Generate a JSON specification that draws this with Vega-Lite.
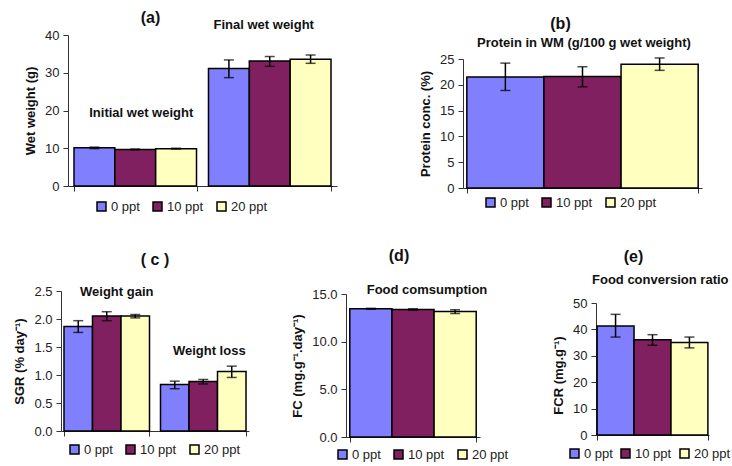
{
  "$schema": "https://vega.github.io/schema/vega-lite/v6.json",
  "padding": {"left": 0, "top": 10, "right": 0, "bottom": 0},
  "background": "white",
  "config": {
    "font": "Liberation Sans",
    "view": {"stroke": null},
    "axis": {"grid": false, "domainColor": "#333", "tickColor": "#333", "tickSize": 5, "labelFontSize": 13, "labelColor": "#222", "titleFontSize": 13, "titleFontWeight": "bold", "titleColor": "#111", "labelPadding": 4, "titlePadding": 7, "labelOverlap": false},
    "axisX": {"title": null, "labels": false, "tickBand": "extent"},
    "legend": {"symbolType": "square", "symbolSize": 81, "symbolStrokeColor": "black", "symbolStrokeWidth": 1.5, "labelFontSize": 13, "labelColor": "#222", "columnPadding": 10, "labelOffset": 3, "title": null, "direction": "horizontal", "orient": "none"},
    "title": {"fontSize": 16, "fontWeight": "bold", "anchor": "middle", "frame": "group", "color": "#111", "offset": 6},
    "text": {"fontSize": 13, "fontWeight": "bold", "color": "#111", "baseline": "middle"},
    "bar": {"stroke": "black", "strokeWidth": 1.5},
    "rule": {"color": "black", "strokeWidth": 1.5},
    "tick": {"color": "black", "thickness": 1.5, "size": 10}
  },
  "datasets": {
    "a": [
      {"group": "Initial", "treatment": "0 ppt", "value": 10.1, "lo": 9.9, "hi": 10.3},
      {"group": "Initial", "treatment": "10 ppt", "value": 9.7, "lo": 9.6, "hi": 9.8},
      {"group": "Initial", "treatment": "20 ppt", "value": 9.9, "lo": 9.8, "hi": 10.0},
      {"group": "Final", "treatment": "0 ppt", "value": 31.1, "lo": 28.7, "hi": 33.4},
      {"group": "Final", "treatment": "10 ppt", "value": 33.1, "lo": 31.7, "hi": 34.3},
      {"group": "Final", "treatment": "20 ppt", "value": 33.6, "lo": 32.5, "hi": 34.7}
    ],
    "b": [
      {"group": "All", "treatment": "0 ppt", "value": 21.5, "lo": 18.9, "hi": 24.2},
      {"group": "All", "treatment": "10 ppt", "value": 21.6, "lo": 19.6, "hi": 23.5},
      {"group": "All", "treatment": "20 ppt", "value": 24.0, "lo": 22.8, "hi": 25.2}
    ],
    "c": [
      {"group": "gain", "treatment": "0 ppt", "value": 1.865, "lo": 1.76, "hi": 1.97},
      {"group": "gain", "treatment": "10 ppt", "value": 2.055, "lo": 1.97, "hi": 2.13},
      {"group": "gain", "treatment": "20 ppt", "value": 2.055, "lo": 2.02, "hi": 2.08},
      {"group": "loss", "treatment": "0 ppt", "value": 0.83, "lo": 0.755, "hi": 0.89},
      {"group": "loss", "treatment": "10 ppt", "value": 0.885, "lo": 0.84, "hi": 0.92},
      {"group": "loss", "treatment": "20 ppt", "value": 1.063, "lo": 0.956, "hi": 1.158}
    ],
    "d": [
      {"group": "All", "treatment": "0 ppt", "value": 13.45, "lo": 13.4, "hi": 13.5},
      {"group": "All", "treatment": "10 ppt", "value": 13.38, "lo": 13.31, "hi": 13.45},
      {"group": "All", "treatment": "20 ppt", "value": 13.17, "lo": 12.95, "hi": 13.35}
    ],
    "e": [
      {"group": "All", "treatment": "0 ppt", "value": 41.3, "lo": 37.1, "hi": 45.7},
      {"group": "All", "treatment": "10 ppt", "value": 36.1, "lo": 34.0, "hi": 38.0},
      {"group": "All", "treatment": "20 ppt", "value": 35.0, "lo": 33.0, "hi": 37.1}
    ]
  },
  "spacing": 34,
  "resolve": {"scale": {"color": "independent", "xOffset": "independent"}, "legend": {"color": "independent"}},
  "vconcat": [
    {
      "spacing": 0,
      "bounds": "flush",
      "resolve": {"scale": {"color": "independent", "xOffset": "independent"}, "legend": {"color": "independent"}},
      "hconcat": [
        {"data": {"values": []}, "mark": "point", "width": 68, "height": 1},
        {
          "width": 269, "height": 151,
          "title": {"text": "(a)", "dx": -52, "dy": 13.5},
          "data": {"name": "a"},
          "encoding": {"x": {"field": "group", "type": "nominal", "sort": ["Initial", "Final"], "scale": {"paddingInner": 0.089, "paddingOuter": 0.0446}}},
          "layer": [
            {"mark": "bar", "encoding": {
              "xOffset": {"field": "treatment", "type": "nominal", "sort": ["0 ppt", "10 ppt", "20 ppt"], "scale": {"paddingInner": 0, "paddingOuter": 0}},
              "y": {"field": "value", "type": "quantitative", "scale": {"domain": [0, 40], "nice": false}, "axis": {"title": "Wet weight (g)", "values": [0, 10, 20, 30, 40]}},
              "color": {"field": "treatment", "type": "nominal", "scale": {"domain": ["0 ppt", "10 ppt", "20 ppt"], "range": ["#8080FF", "#802060", "#FFFFC0"]}, "legend": {"legendX": 27, "legendY": 165}}}},
            {"mark": "rule", "encoding": {
              "xOffset": {"field": "treatment", "type": "nominal", "sort": ["0 ppt", "10 ppt", "20 ppt"]},
              "y": {"field": "lo", "type": "quantitative", "axis": {"title": "Wet weight (g)", "values": [0, 10, 20, 30, 40]}}, "y2": {"field": "hi"}}},
            {"mark": "tick", "encoding": {
              "xOffset": {"field": "treatment", "type": "nominal", "sort": ["0 ppt", "10 ppt", "20 ppt"]},
              "y": {"field": "lo", "type": "quantitative", "axis": {"title": "Wet weight (g)", "values": [0, 10, 20, 30, 40]}}}},
            {"mark": "tick", "encoding": {
              "xOffset": {"field": "treatment", "type": "nominal", "sort": ["0 ppt", "10 ppt", "20 ppt"]},
              "y": {"field": "hi", "type": "quantitative", "axis": {"title": "Wet weight (g)", "values": [0, 10, 20, 30, 40]}}}},
            {"data": {"values": [{"group": "Initial", "pos": 19.3, "label": "Initial wet  weight"}]},
              "mark": {"type": "text", "dx": 6},
              "encoding": {"y": {"field": "pos", "type": "quantitative", "axis": {"title": "Wet weight (g)", "values": [0, 10, 20, 30, 40]}}, "text": {"field": "label"}}},
            {"data": {"values": [{"group": "Final", "pos": 42.65, "label": "Final wet weight"}]},
              "mark": {"type": "text", "dx": -6},
              "encoding": {"y": {"field": "pos", "type": "quantitative", "axis": {"title": "Wet weight (g)", "values": [0, 10, 20, 30, 40]}}, "text": {"field": "label"}}}
          ]
        },
        {"data": {"values": []}, "mark": "point", "width": 126, "height": 1},
        {
          "width": 239, "height": 153,
          "title": {"text": "(b)", "dx": -22, "dy": 3},
          "data": {"name": "b"},
          "encoding": {"x": {"field": "group", "type": "nominal", "scale": {"paddingInner": 0, "paddingOuter": 0.0165}}},
          "layer": [
            {"mark": "bar", "encoding": {
              "xOffset": {"field": "treatment", "type": "nominal", "sort": ["0 ppt", "10 ppt", "20 ppt"], "scale": {"paddingInner": 0, "paddingOuter": 0}},
              "y": {"field": "value", "type": "quantitative", "scale": {"domain": [0, 25], "nice": false, "range": [153, 24]}, "axis": {"title": "Protein  conc. (%)", "values": [0, 5, 10, 15, 20, 25]}},
              "color": {"field": "treatment", "type": "nominal", "scale": {"domain": ["0 ppt", "10 ppt", "20 ppt"], "range": ["#8080FF", "#802060", "#FFFFC0"]}, "legend": {"legendX": 21, "legendY": 161}}}},
            {"mark": "rule", "encoding": {
              "xOffset": {"field": "treatment", "type": "nominal", "sort": ["0 ppt", "10 ppt", "20 ppt"]},
              "y": {"field": "lo", "type": "quantitative", "axis": {"title": "Protein  conc. (%)", "values": [0, 5, 10, 15, 20, 25]}}, "y2": {"field": "hi"}}},
            {"mark": "tick", "encoding": {
              "xOffset": {"field": "treatment", "type": "nominal", "sort": ["0 ppt", "10 ppt", "20 ppt"]},
              "y": {"field": "lo", "type": "quantitative", "axis": {"title": "Protein  conc. (%)", "values": [0, 5, 10, 15, 20, 25]}}}},
            {"mark": "tick", "encoding": {
              "xOffset": {"field": "treatment", "type": "nominal", "sort": ["0 ppt", "10 ppt", "20 ppt"]},
              "y": {"field": "hi", "type": "quantitative", "axis": {"title": "Protein  conc. (%)", "values": [0, 5, 10, 15, 20, 25]}}}},
            {"data": {"values": [{"group": "All", "pos": 28.1, "label": "Protein in WM (g/100 g wet weight)"}]},
              "mark": {"type": "text", "dx": 1.5},
              "encoding": {"y": {"field": "pos", "type": "quantitative", "axis": {"title": "Protein  conc. (%)", "values": [0, 5, 10, 15, 20, 25]}}, "text": {"field": "label"}}}
          ]
        }
      ]
    },
    {
      "spacing": 0,
      "bounds": "flush",
      "resolve": {"scale": {"color": "independent", "xOffset": "independent"}, "legend": {"color": "independent"}},
      "hconcat": [
        {"data": {"values": []}, "mark": "point", "width": 61, "height": 1},
        {
          "width": 188, "height": 140,
          "title": {"text": "( c )", "dx": 0, "dy": -11},
          "data": {"name": "c"},
          "encoding": {"x": {"field": "group", "type": "nominal", "sort": ["gain", "loss"], "scale": {"paddingInner": 0.114, "paddingOuter": 0.031}}},
          "layer": [
            {"mark": "bar", "encoding": {
              "xOffset": {"field": "treatment", "type": "nominal", "sort": ["0 ppt", "10 ppt", "20 ppt"], "scale": {"paddingInner": 0, "paddingOuter": 0}},
              "y": {"field": "value", "type": "quantitative", "scale": {"domain": [0, 2.5], "nice": false}, "axis": {"title": "SGR (% day⁻¹)", "values": [0, 0.5, 1, 1.5, 2, 2.5], "format": ".1f"}},
              "color": {"field": "treatment", "type": "nominal", "scale": {"domain": ["0 ppt", "10 ppt", "20 ppt"], "range": ["#8080FF", "#802060", "#FFFFC0"]}, "legend": {"legendX": 7, "legendY": 152}}}},
            {"mark": "rule", "encoding": {
              "xOffset": {"field": "treatment", "type": "nominal", "sort": ["0 ppt", "10 ppt", "20 ppt"]},
              "y": {"field": "lo", "type": "quantitative", "axis": {"title": "SGR (% day⁻¹)", "values": [0, 0.5, 1, 1.5, 2, 2.5], "format": ".1f"}}, "y2": {"field": "hi"}}},
            {"mark": "tick", "encoding": {
              "xOffset": {"field": "treatment", "type": "nominal", "sort": ["0 ppt", "10 ppt", "20 ppt"]},
              "y": {"field": "lo", "type": "quantitative", "axis": {"title": "SGR (% day⁻¹)", "values": [0, 0.5, 1, 1.5, 2, 2.5], "format": ".1f"}}}},
            {"mark": "tick", "encoding": {
              "xOffset": {"field": "treatment", "type": "nominal", "sort": ["0 ppt", "10 ppt", "20 ppt"]},
              "y": {"field": "hi", "type": "quantitative", "axis": {"title": "SGR (% day⁻¹)", "values": [0, 0.5, 1, 1.5, 2, 2.5], "format": ".1f"}}}},
            {"data": {"values": [{"group": "gain", "pos": 2.48, "label": "Weight gain"}]},
              "mark": {"type": "text", "dx": 10},
              "encoding": {"y": {"field": "pos", "type": "quantitative", "axis": {"title": "SGR (% day⁻¹)", "values": [0, 0.5, 1, 1.5, 2, 2.5], "format": ".1f"}}, "text": {"field": "label"}}},
            {"data": {"values": [{"group": "loss", "pos": 1.43, "label": "Weight loss"}]},
              "mark": {"type": "text", "dx": 6},
              "encoding": {"y": {"field": "pos", "type": "quantitative", "axis": {"title": "SGR (% day⁻¹)", "values": [0, 0.5, 1, 1.5, 2, 2.5], "format": ".1f"}}, "text": {"field": "label"}}}
          ]
        },
        {"data": {"values": []}, "mark": "point", "width": 97, "height": 1},
        {
          "width": 134, "height": 146,
          "title": {"text": "(d)", "dx": -14, "dy": -14},
          "data": {"name": "d"},
          "encoding": {"x": {"field": "group", "type": "nominal", "scale": {"paddingInner": 0, "paddingOuter": 0.03}}},
          "layer": [
            {"mark": "bar", "encoding": {
              "xOffset": {"field": "treatment", "type": "nominal", "sort": ["0 ppt", "10 ppt", "20 ppt"], "scale": {"paddingInner": 0, "paddingOuter": 0}},
              "y": {"field": "value", "type": "quantitative", "scale": {"domain": [0, 15], "nice": false, "range": [146, 3]}, "axis": {"title": "FC (mg.g⁻¹.day⁻¹)", "values": [0, 5, 10, 15], "format": ".1f"}},
              "color": {"field": "treatment", "type": "nominal", "scale": {"domain": ["0 ppt", "10 ppt", "20 ppt"], "range": ["#8080FF", "#802060", "#FFFFC0"]}, "legend": {"legendX": -10, "legendY": 157}}}},
            {"mark": "rule", "encoding": {
              "xOffset": {"field": "treatment", "type": "nominal", "sort": ["0 ppt", "10 ppt", "20 ppt"]},
              "y": {"field": "lo", "type": "quantitative", "axis": {"title": "FC (mg.g⁻¹.day⁻¹)", "values": [0, 5, 10, 15], "format": ".1f"}}, "y2": {"field": "hi"}}},
            {"mark": "tick", "encoding": {
              "xOffset": {"field": "treatment", "type": "nominal", "sort": ["0 ppt", "10 ppt", "20 ppt"]},
              "y": {"field": "lo", "type": "quantitative", "axis": {"title": "FC (mg.g⁻¹.day⁻¹)", "values": [0, 5, 10, 15], "format": ".1f"}}}},
            {"mark": "tick", "encoding": {
              "xOffset": {"field": "treatment", "type": "nominal", "sort": ["0 ppt", "10 ppt", "20 ppt"]},
              "y": {"field": "hi", "type": "quantitative", "axis": {"title": "FC (mg.g⁻¹.day⁻¹)", "values": [0, 5, 10, 15], "format": ".1f"}}}},
            {"data": {"values": [{"group": "All", "pos": 15.4, "label": "Food comsumption"}]},
              "mark": {"type": "text", "dx": 14},
              "encoding": {"y": {"field": "pos", "type": "quantitative", "axis": {"title": "FC (mg.g⁻¹.day⁻¹)", "values": [0, 5, 10, 15], "format": ".1f"}}, "text": {"field": "label"}}}
          ]
        },
        {"data": {"values": []}, "mark": "point", "width": 116, "height": 1},
        {
          "width": 113, "height": 144,
          "title": {"text": "(e)", "dx": -19, "dy": -3},
          "data": {"name": "e"},
          "encoding": {"x": {"field": "group", "type": "nominal", "scale": {"paddingInner": 0, "paddingOuter": 0.01}}},
          "layer": [
            {"mark": "bar", "encoding": {
              "xOffset": {"field": "treatment", "type": "nominal", "sort": ["0 ppt", "10 ppt", "20 ppt"], "scale": {"paddingInner": 0, "paddingOuter": 0}},
              "y": {"field": "value", "type": "quantitative", "scale": {"domain": [0, 50], "nice": false, "range": [144, 12]}, "axis": {"title": "FCR (mg.g⁻¹)", "values": [0, 10, 20, 30, 40, 50], "titleY": 84}},
              "color": {"field": "treatment", "type": "nominal", "scale": {"domain": ["0 ppt", "10 ppt", "20 ppt"], "range": ["#8080FF", "#802060", "#FFFFC0"]}, "legend": {"legendX": -28, "legendY": 156, "columnPadding": 5}}}},
            {"mark": "rule", "encoding": {
              "xOffset": {"field": "treatment", "type": "nominal", "sort": ["0 ppt", "10 ppt", "20 ppt"]},
              "y": {"field": "lo", "type": "quantitative", "axis": {"title": "FCR (mg.g⁻¹)", "values": [0, 10, 20, 30, 40, 50], "titleY": 84}}, "y2": {"field": "hi"}}},
            {"mark": "tick", "encoding": {
              "xOffset": {"field": "treatment", "type": "nominal", "sort": ["0 ppt", "10 ppt", "20 ppt"]},
              "y": {"field": "lo", "type": "quantitative", "axis": {"title": "FCR (mg.g⁻¹)", "values": [0, 10, 20, 30, 40, 50], "titleY": 84}}}},
            {"mark": "tick", "encoding": {
              "xOffset": {"field": "treatment", "type": "nominal", "sort": ["0 ppt", "10 ppt", "20 ppt"]},
              "y": {"field": "hi", "type": "quantitative", "axis": {"title": "FCR (mg.g⁻¹)", "values": [0, 10, 20, 30, 40, 50], "titleY": 84}}}},
            {"data": {"values": [{"group": "All", "pos": 58.7, "label": "Food conversion ratio"}]},
              "mark": {"type": "text", "dx": -60.5, "align": "left"},
              "encoding": {"y": {"field": "pos", "type": "quantitative", "axis": {"title": "FCR (mg.g⁻¹)", "values": [0, 10, 20, 30, 40, 50], "titleY": 84}}, "text": {"field": "label"}}}
          ]
        }
      ]
    }
  ]
}
